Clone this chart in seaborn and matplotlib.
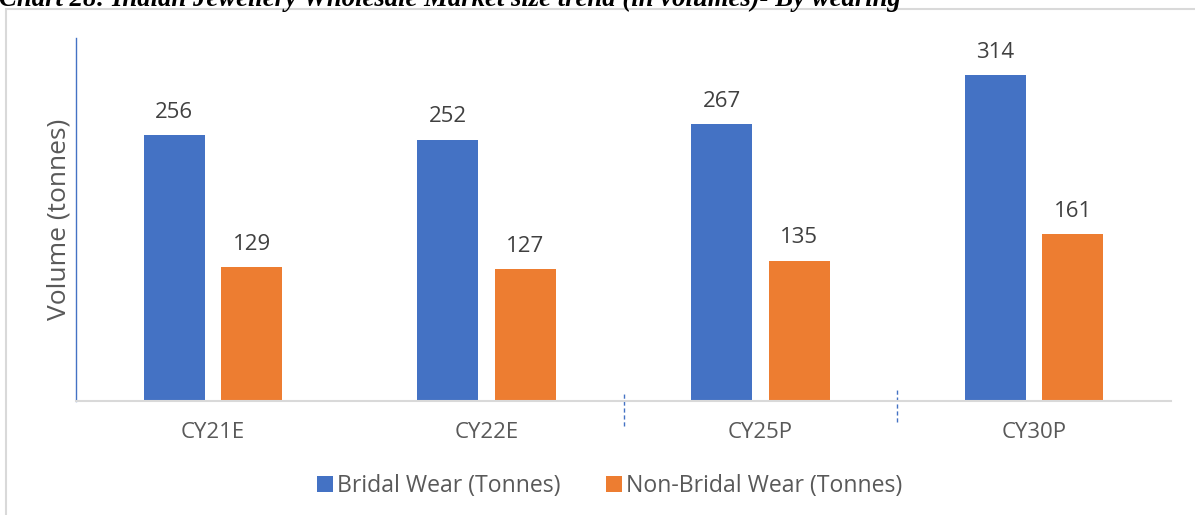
import matplotlib
matplotlib.use("Agg")
import matplotlib.pyplot as plt
import matplotlib.transforms as mtransforms
from matplotlib.patches import Rectangle
import seaborn as sns
import pandas as pd

years = ["CY21E", "CY22E", "CY25P", "CY30P"]
bridal = [256, 252, 267, 314]
non_bridal = [129, 127, 135, 161]
series_names = ["Bridal Wear (Tonnes)", "Non-Bridal Wear (Tonnes)"]
colors = ["#4472C4", "#ED7D31"]

df = pd.DataFrame({
    "year": years * 2,
    "volume": bridal + non_bridal,
    "series": [series_names[0]] * len(years) + [series_names[1]] * len(years),
})

sns.set_theme(style="white")
plt.rcParams["font.family"] = ["Open Sans", "DejaVu Sans"]

fig = plt.figure(figsize=(11.95, 5.15), dpi=100)
ax = fig.add_axes([76 / 1195, 1 - 401 / 515, 1095 / 1195, 363 / 515])

sns.barplot(data=df, x="year", y="volume", hue="series", order=years,
            hue_order=series_names, palette=colors, width=0.566, gap=0.21,
            saturation=1, linewidth=0, ax=ax, legend=True)

ax.set_ylim(0, 350)
ax.set_xlim(-0.5, len(years) - 0.5)
ax.set_yticks([])
ax.set_xlabel("")
ax.set_ylabel("Volume (tonnes)", fontsize=19, color="#595959", labelpad=3)
ax.tick_params(axis="x", length=0, pad=15, labelsize=16, labelcolor="#595959")

for side in ["top", "right"]:
    ax.spines[side].set_visible(False)
ax.spines["left"].set_color("#4472C4")
ax.spines["left"].set_linewidth(1.0)
ax.spines["bottom"].set_color("#D9D9D9")
ax.spines["bottom"].set_linewidth(1.5)

# value labels above each bar
for container in ax.containers:
    ax.bar_label(container, fmt="%d", padding=9, fontsize=16, color="#404040")

# dashed separators between later categories
trans = mtransforms.blended_transform_factory(ax.transData, ax.transAxes)
for i, (y0, y1) in zip([1, 2], [(-0.07, 0.02), (-0.058, 0.033)]):
    ax.plot([i + 0.5, i + 0.5], [y0, y1], transform=trans, color="#4472C4",
            linestyle=(0, (3, 2)), linewidth=1.0, clip_on=False)

handles, labels = ax.get_legend_handles_labels()
ax.legend(handles, labels, loc="center", bbox_to_anchor=(609.5 / 1195, 1 - 486 / 515),
          bbox_transform=fig.transFigure, ncol=2, frameon=False, fontsize=16.6,
          labelcolor="#595959", handlelength=0.7, handleheight=0.7,
          handletextpad=0.17, columnspacing=2.0)

# outer chart frame
fig.patches.append(Rectangle((6 / 1195, -0.1), 1.2, 1.1 - 9 / 515,
                             transform=fig.transFigure, fill=False,
                             edgecolor="#D9D9D9", linewidth=1.5))

fig.text(-0.001, 1 - 6 / 515,
         "Chart 28: Indian Jewellery Wholesale Market size trend (in volumes)- By wearing",
         family="Liberation Serif", fontweight="bold", fontstyle="italic",
         fontsize=19.3, va="baseline", ha="left", color="black")

fig.savefig("out.png", dpi=100)
